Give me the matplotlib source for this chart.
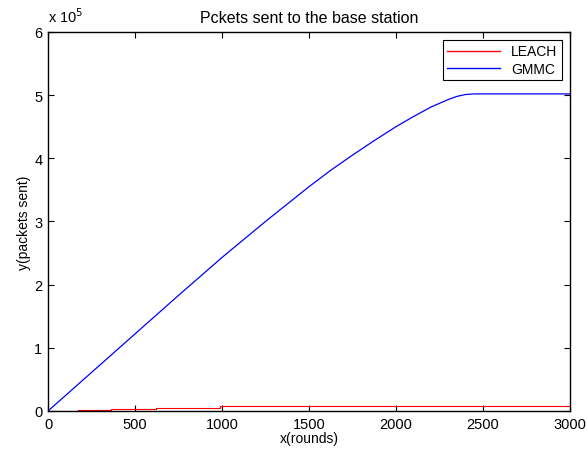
import numpy as np
import matplotlib.pyplot as plt

plt.rcParams['font.family'] = ['Liberation Sans', 'DejaVu Sans']

# LEACH (step-like cumulative packets)
leach_x = [0, 170, 360, 620, 990, 3000]
leach_y = [300, 1500, 3200, 5200, 7400, 7400]

# GMMC cumulative packets
gmmc_x = [0, 250, 500, 750, 1000, 1250, 1500, 1625, 1750, 1875, 2000, 2100, 2200, 2300, 2350, 2400, 2450, 3000]
gmmc_y = [0, 0.61e5, 1.22e5, 1.83e5, 2.43e5, 3.00e5, 3.55e5, 3.81e5, 4.05e5, 4.28e5, 4.50e5,
          4.66e5, 4.81e5, 4.93e5, 4.98e5, 5.01e5, 5.02e5, 5.02e5]

fig = plt.figure(figsize=(5.87, 4.52), dpi=100)
ax = fig.add_axes([0.0818, 0.0885, 0.889, 0.8385])

ax.plot(leach_x, leach_y, color='#ff0000', linewidth=0.8, drawstyle='steps-post', label='LEACH')
ax.plot(gmmc_x, gmmc_y, color='#0000ff', linewidth=0.9, label='GMMC')

ax.set_xlim(0, 3000)
ax.set_ylim(0, 6e5)
ax.set_xticks([0, 500, 1000, 1500, 2000, 2500, 3000])
ax.set_yticks(np.arange(0, 7) * 1e5)
ax.set_yticklabels([str(i) for i in range(7)])
ax.tick_params(direction='in', top=True, right=True, labelsize=10.5, length=4, pad=4)

for s in ax.spines.values():
    s.set_linewidth(1.0)

ax.set_title('Pckets sent to the base station', fontsize=11.5, pad=7)
ax.set_xlabel('x(rounds)', fontsize=10, labelpad=0)
ax.set_ylabel('y(packets sent)', fontsize=10, labelpad=2)

fig.text(0.0818, 0.943, r'x 10$^{5}$', fontsize=10.5, ha='left', va='bottom')

leg = ax.legend(loc='upper right', fontsize=10, fancybox=False, edgecolor='black',
                framealpha=1, borderaxespad=0.6, handlelength=3.8, borderpad=0.3,
                labelspacing=0.25)
leg.get_frame().set_linewidth(0.8)
for h in leg.get_lines():
    h.set_linewidth(1.0)

fig.savefig('out.png', dpi=100)
